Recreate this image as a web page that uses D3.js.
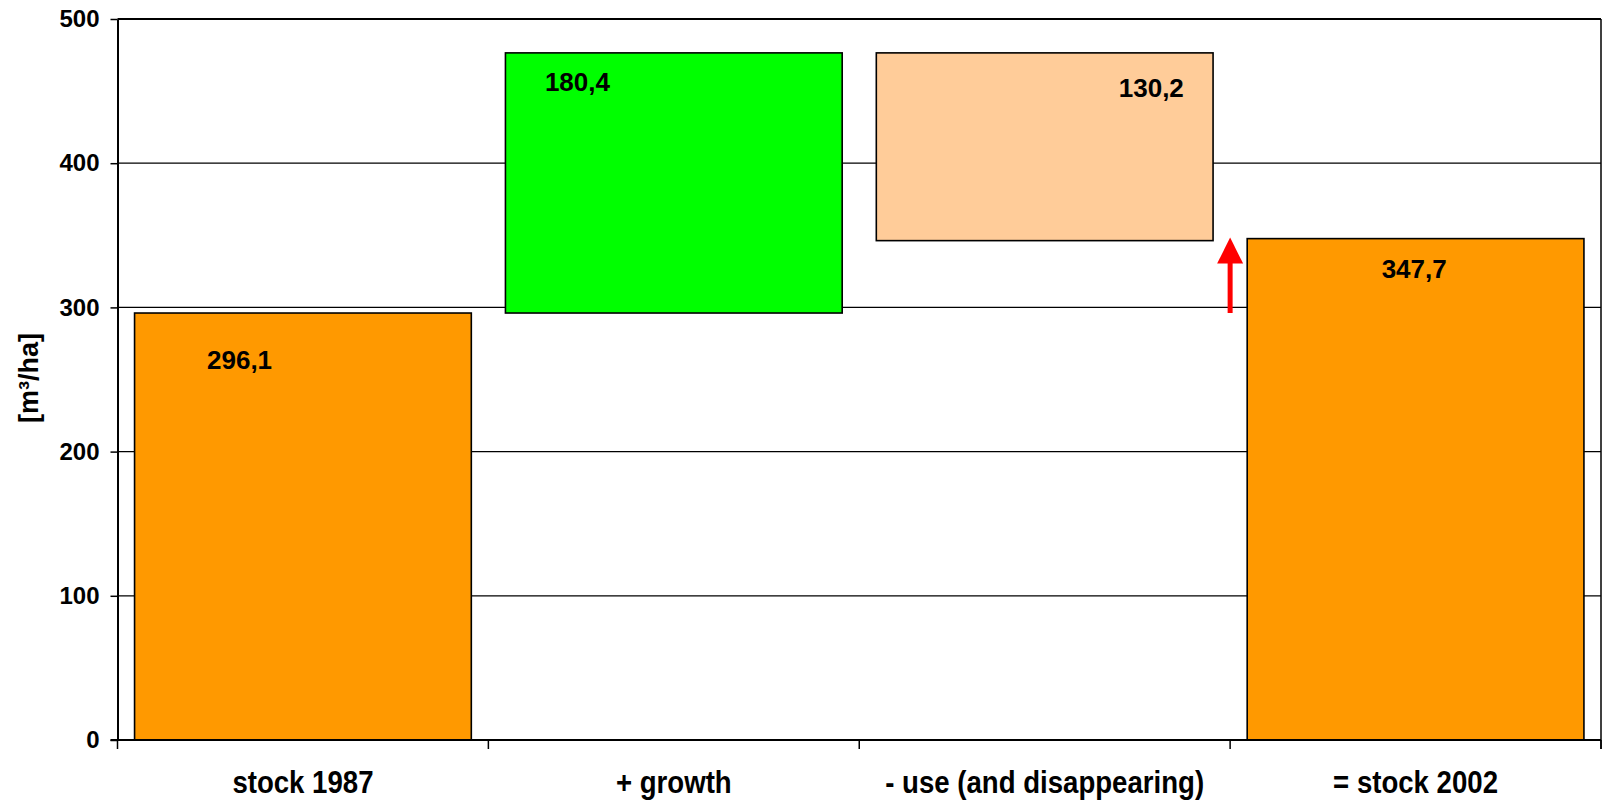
<!DOCTYPE html>
<html>
<head>
<meta charset="utf-8">
<script src="https://cdn.jsdelivr.net/npm/d3@7"></script>
<style>
  body { margin: 0; background: #fff; }
  svg { display: block; }
  text { font-family: "Liberation Sans", Arial, Helvetica, sans-serif; font-weight: bold; fill: #000; }
</style>
</head>
<body>
<svg id="chart" width="1605" height="802"></svg>
<script>
// Growing stock balance, m³/ha
const categories = ["stock 1987", "+ growth", "- use (and disappearing)", "= stock 2002"];
const values = [296.1, 180.4, 130.2, 347.7];
const valueLabels = ["296,1", "180,4", "130,2", "347,7"];
const stepTypes = ["total", "increase", "decrease", "total"];
const barColors = ["#FF9900", "#00FF00", "#FFCC99", "#FF9900"];
const yTicks = [0, 100, 200, 300, 400, 500];
const yTitle = "[m³/ha]";
// value label placement inside each bar: [dx from bar left, dy from bar top]
const labelOffsets = [[105, 56], [72, 38], [275, 44], [167, 39]];

const svg = d3.select("#chart");
const plot = { left: 117.5, right: 1601, top: 19, bottom: 740 };

// running totals for the waterfall segments
let running = 0;
const segments = values.map((v, i) => {
  let lo, hi;
  if (stepTypes[i] === "total") { lo = 0; hi = v; running = v; }
  else if (stepTypes[i] === "increase") { lo = running; hi = running + v; running = hi; }
  else { hi = running; lo = running - v; running = lo; }
  return { cat: categories[i], lo, hi, color: barColors[i], label: valueLabels[i], off: labelOffsets[i] };
});

const pad = 0.092;
const x = d3.scaleBand().domain(categories).range([plot.left, plot.right])
  .paddingInner(pad).paddingOuter(pad / 2);
const y = d3.scaleLinear().domain([0, 500]).range([plot.bottom, plot.top]);
const step = x.step();
const boundary = c => x(c) - (step - x.bandwidth()) / 2;

// horizontal gridlines
svg.append("g").selectAll("line").data(yTicks.filter(t => t > 0)).join("line")
  .attr("x1", plot.left).attr("x2", plot.right)
  .attr("y1", d => y(d)).attr("y2", d => y(d))
  .attr("stroke", "#000").attr("stroke-width", d => d === 500 ? 2 : 1.2);

// right edge of the plot area
svg.append("line").attr("x1", plot.right).attr("x2", plot.right)
  .attr("y1", plot.top).attr("y2", plot.bottom + 9)
  .attr("stroke", "#000").attr("stroke-width", 1.5);

// bars
svg.append("g").selectAll("rect").data(segments).join("rect")
  .attr("x", d => x(d.cat))
  .attr("width", x.bandwidth())
  .attr("y", d => y(d.hi))
  .attr("height", d => y(d.lo) - y(d.hi))
  .attr("fill", d => d.color)
  .attr("stroke", "#000").attr("stroke-width", 1.6);

// value labels
svg.append("g").selectAll("text").data(segments).join("text")
  .attr("x", d => x(d.cat) + d.off[0])
  .attr("y", d => y(d.hi) + d.off[1])
  .attr("text-anchor", "middle")
  .attr("font-size", 26)
  .text(d => d.label);

// arrow from the starting stock level up to the final stock level
const ax = boundary(categories[3]);
const yFrom = y(segments[0].hi), yTo = y(segments[3].hi);
svg.append("line").attr("x1", ax).attr("x2", ax)
  .attr("y1", yFrom).attr("y2", yTo + 24)
  .attr("stroke", "#FF0000").attr("stroke-width", 5);
svg.append("path")
  .attr("d", `M${ax},${yTo - 1} L${ax - 13},${yTo + 25} L${ax + 13},${yTo + 25} Z`)
  .attr("fill", "#FF0000");

// y axis
const yAxis = d3.axisLeft(y).tickValues(yTicks).tickSize(7).tickPadding(11).tickSizeOuter(0);
const gy = svg.append("g").attr("transform", `translate(${plot.left},0)`).call(yAxis);
gy.select(".domain").attr("stroke", "#000").attr("stroke-width", 2);
gy.selectAll(".tick line").attr("stroke", "#000").attr("stroke-width", 1.5);
gy.selectAll(".tick text").attr("font-size", 24).attr("font-family", null).attr("fill", "#000");

// x axis line and category boundary ticks
svg.append("line").attr("x1", plot.left - 7).attr("x2", plot.right)
  .attr("y1", plot.bottom).attr("y2", plot.bottom)
  .attr("stroke", "#000").attr("stroke-width", 2);
const bounds = categories.map(boundary).concat([plot.right]);
svg.append("g").selectAll("line").data(bounds).join("line")
  .attr("x1", d => d).attr("x2", d => d)
  .attr("y1", plot.bottom).attr("y2", plot.bottom + 9)
  .attr("stroke", "#000").attr("stroke-width", 1.5);

// category labels (narrow, tall lettering)
svg.append("g").selectAll("text").data(categories).join("text")
  .attr("transform", d => `translate(${x(d) + x.bandwidth() / 2},793) scale(1,1.16)`)
  .attr("text-anchor", "middle")
  .attr("font-size", 27.6)
  .text(d => d);

// y axis title
svg.append("text")
  .attr("transform", "translate(38,378) rotate(-90)")
  .attr("text-anchor", "middle")
  .attr("font-size", 27)
  .text(yTitle);
</script>
</body>
</html>
